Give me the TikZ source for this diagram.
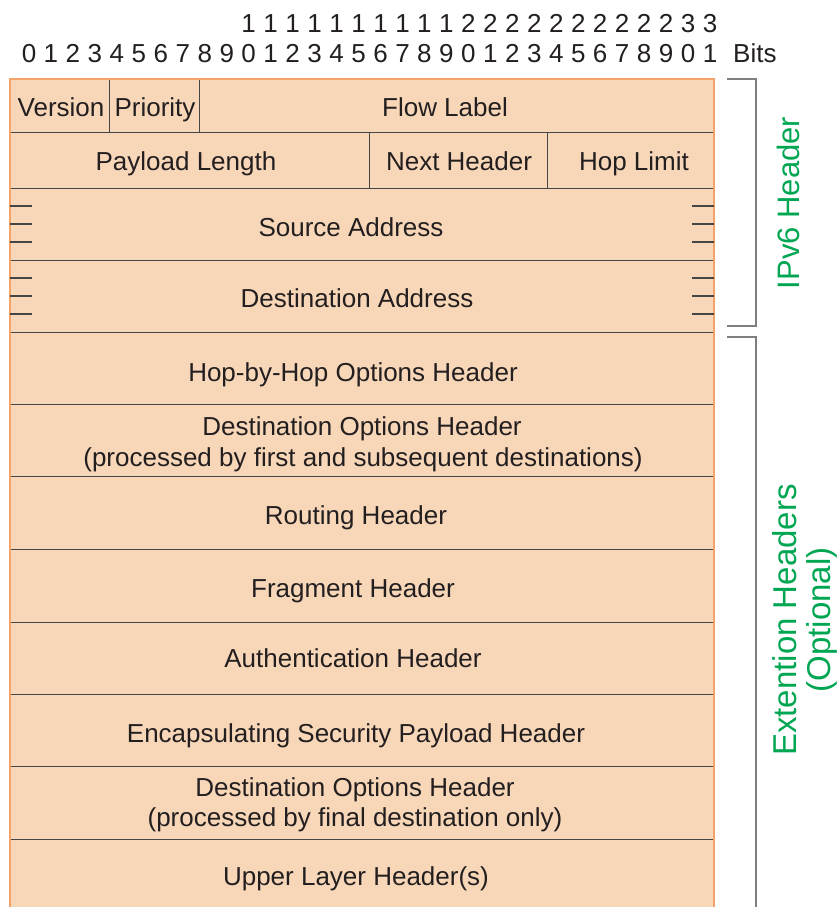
\documentclass[tikz,border=0pt]{standalone}
\usepackage{fontspec}
\setmainfont{Liberation Sans}
\definecolor{peach}{HTML}{F8D7B8}
\definecolor{edgeorange}{HTML}{F4A46A}
\definecolor{rulegray}{HTML}{454545}
\definecolor{ink}{HTML}{231F20}
\definecolor{bracketgray}{HTML}{7F7F7F}
\definecolor{labelgreen}{HTML}{00A651}

\begin{document}
\begin{tikzpicture}[x=1pt,y=-1pt,
  cell/.style={draw=rulegray, line width=1.1pt, fill=peach, inner sep=0pt, anchor=north west},
  lbl/.style={text=ink, font=\fontsize{26}{30}\selectfont, inner sep=0pt, anchor=base},
  bitnum/.style={text=ink, font=\fontsize{26}{30}\selectfont, inner sep=0pt, anchor=base},
  side/.style={text=labelgreen, font=\fontsize{31}{36}\selectfont, rotate=90, align=center, inner sep=0pt},
  bracketline/.style={draw=bracketgray, line width=1.5pt},
  tickline/.style={draw=rulegray, line width=1.1pt}]

\useasboundingbox (0,0) rectangle (838,907);
\clip (0,0) rectangle (838,907);

% bit numbering above the header
\foreach \i in {0,...,31}{
  \pgfmathtruncatemacro{\tens}{int(\i/10)}
  \pgfmathtruncatemacro{\ones}{int(mod(\i,10))}
  \node[bitnum] (bit\i) at ({29+21.97*\i},63) {\ones};
  \ifnum\i>9
    \node[bitnum] (tens\i) at ({29+21.97*\i},33) {\tens};
  \fi
}
\node[bitnum, anchor=base west] (bits) at (733,63) {Bits};

% IPv6 fixed header
\node[cell, minimum width=99pt,  minimum height=53pt] (version)  at (10,79)  {};
\node[cell, minimum width=90pt,  minimum height=53pt] (priority) at (109,79) {};
\node[cell, minimum width=515pt, minimum height=53pt] (flow)     at (199,79) {};
\node[cell, minimum width=359pt, minimum height=56pt] (plen)     at (10,132) {};
\node[cell, minimum width=178pt, minimum height=56pt] (nexthdr)  at (369,132) {};
\node[cell, minimum width=167pt, minimum height=56pt] (hoplim)   at (547,132) {};
\node[cell, minimum width=704pt, minimum height=72pt] (src)      at (10,188) {};
\node[cell, minimum width=704pt, minimum height=72pt] (dst)      at (10,260) {};

% extension headers
\node[cell, minimum width=704pt, minimum height=72pt] (hbh)      at (10,332) {};
\node[cell, minimum width=704pt, minimum height=72pt] (dopta)    at (10,404) {};
\node[cell, minimum width=704pt, minimum height=73pt] (routing)  at (10,476) {};
\node[cell, minimum width=704pt, minimum height=73pt] (frag)     at (10,549) {};
\node[cell, minimum width=704pt, minimum height=72pt] (auth)     at (10,622) {};
\node[cell, minimum width=704pt, minimum height=72pt] (esp)      at (10,694) {};
\node[cell, minimum width=704pt, minimum height=73pt] (doptb)    at (10,766) {};
\node[cell, minimum width=704pt, minimum height=90pt] (upper)    at (10,839) {};

% orange outline of the whole packet
\draw[edgeorange, line width=1.5pt] (10,940) -- (10,79) -- (714,79) -- (714,940);

% ticks marking the 32-bit words of the addresses
\foreach \y in {206,224,242,278,296,314}{
  \draw[tickline] (10,\y) -- (32,\y);
  \draw[tickline] (692,\y) -- (714,\y);
}

% field labels
\node[lbl] (tversion)  at (61,116.5)  {Version};
\node[lbl] (tpriority) at (155,116.5) {Priority};
\node[lbl] (tflow)     at (445,116.5) {Flow Label};
\node[lbl] (tplen)     at (186,170.5) {Payload Length};
\node[lbl] (tnext)     at (459,170.5) {Next Header};
\node[lbl] (thop)      at (634,170.5) {Hop Limit};
\node[lbl] (tsrc)      at (351,236)   {Source Address};
\node[lbl] (tdst)      at (357,307)   {Destination Address};
\node[lbl] (thbh)      at (353,381)   {Hop-by-Hop Options Header};
\node[lbl] (tdopta1)   at (362,435)   {Destination Options Header};
\node[lbl] (tdopta2)   at (363,466)   {(processed by first and subsequent destinations)};
\node[lbl] (trouting)  at (356,524)   {Routing Header};
\node[lbl] (tfrag)     at (353,597)   {Fragment Header};
\node[lbl] (tauth)     at (353,667)   {Authentication Header};
\node[lbl] (tesp)      at (356,742)   {Encapsulating Security Payload Header};
\node[lbl] (tdoptb1)   at (355,796)   {Destination Options Header};
\node[lbl] (tdoptb2)   at (355,826)   {(processed by final destination only)};
\node[lbl] (tupper)    at (356,885)   {Upper Layer Header(s)};

% side brackets and their captions
\coordinate (ipa) at (727,79);
\coordinate (ipb) at (756,79);
\coordinate (ipc) at (756,326);
\coordinate (ipd) at (727,326);
\draw[bracketline] (ipa) -- (ipb) -- (ipc) -- (ipd);
\coordinate (exa) at (727,337);
\coordinate (exb) at (756,337);
\coordinate (exc) at (756,940);
\draw[bracketline] (exa) -- (exb) -- (exc);

\node[side] (ipv6cap) at (788,203) {IPv6 Header};
\node[side, font=\fontsize{33}{34}\selectfont] (extcap) at (805,620) {Extention Headers\\(Optional)};

\end{tikzpicture}
\end{document}
